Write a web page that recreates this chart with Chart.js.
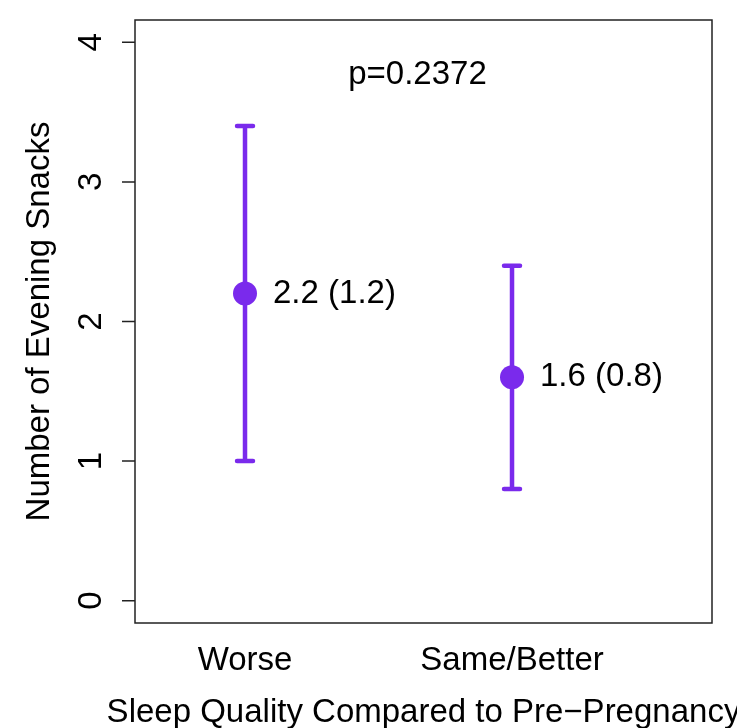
<!DOCTYPE html>
<html>
<head>
<meta charset="utf-8">
<script src="https://cdn.jsdelivr.net/npm/chart.js@4"></script>
<style>
  body { margin: 0; background: #fff; }
  canvas { display: block; }
</style>
</head>
<body>
<canvas id="myChart" width="737" height="728"></canvas>
<script>
const categories = ['Worse', 'Same/Better'];
const means = [2.2, 1.6];
const sds = [1.2, 0.8];
const yTicks = [0, 1, 2, 3, 4];
const pLabel = 'p=0.2372';
const xTitle = 'Sleep Quality Compared to Pre\u2212Pregnancy';
const yTitle = 'Number of Evening Snacks';

const purple = '#7a2aec';
const font = '"Liberation Sans", Arial, Helvetica, sans-serif';
const fs = 33;

// R-style box, axis, error bars and text
const rPlot = {
  id: 'rPlot',
  beforeDatasetsDraw(chart) {
    const ctx = chart.ctx;
    const xs = chart.scales.x, ys = chart.scales.y;
    ctx.save();
    ctx.strokeStyle = purple;
    ctx.lineWidth = 4.5;
    ctx.lineCap = 'round';
    means.forEach((m, i) => {
      const px = xs.getPixelForValue(i + 1);
      const lo = ys.getPixelForValue(m - sds[i]);
      const hi = ys.getPixelForValue(m + sds[i]);
      ctx.beginPath();
      ctx.moveTo(px, lo); ctx.lineTo(px, hi);
      ctx.moveTo(px - 8, lo); ctx.lineTo(px + 8, lo);
      ctx.moveTo(px - 8, hi); ctx.lineTo(px + 8, hi);
      ctx.stroke();
    });
    ctx.restore();
  },
  afterDatasetsDraw(chart) {
    const ctx = chart.ctx;
    const a = chart.chartArea;
    const xs = chart.scales.x, ys = chart.scales.y;
    ctx.save();
    ctx.strokeStyle = '#222';
    ctx.lineWidth = 1.5;
    ctx.strokeRect(a.left, a.top, a.right - a.left, a.bottom - a.top);

    // y axis ticks
    ctx.beginPath();
    yTicks.forEach(t => {
      const py = ys.getPixelForValue(t);
      ctx.moveTo(a.left, py); ctx.lineTo(a.left - 13, py);
    });
    ctx.stroke();

    ctx.fillStyle = '#000';
    ctx.font = fs + 'px ' + font;
    ctx.textAlign = 'center';
    ctx.textBaseline = 'middle';
    yTicks.forEach(t => {
      const py = ys.getPixelForValue(t);
      ctx.save();
      ctx.translate(92, py);
      ctx.rotate(-Math.PI / 2);
      ctx.fillText(String(t), 0, 0);
      ctx.restore();
    });

    // category labels
    categories.forEach((c, i) => {
      ctx.fillText(c, xs.getPixelForValue(i + 1), 661);
    });

    // axis titles
    ctx.fillText(xTitle, (a.left + a.right) / 2, 713);
    ctx.save();
    ctx.translate(40, (a.top + a.bottom) / 2);
    ctx.rotate(-Math.PI / 2);
    ctx.fillText(yTitle, 0, 0);
    ctx.restore();

    // value labels
    ctx.textAlign = 'left';
    means.forEach((m, i) => {
      const px = xs.getPixelForValue(i + 1);
      const py = ys.getPixelForValue(m);
      ctx.fillText(m.toFixed(1) + ' (' + sds[i].toFixed(1) + ')', px + 28, py);
    });

    // p value
    ctx.textAlign = 'center';
    ctx.fillText(pLabel, xs.getPixelForValue(1.646), ys.getPixelForValue(3.77));
    ctx.restore();
  }
};

new Chart(document.getElementById('myChart'), {
  type: 'scatter',
  data: {
    datasets: [{
      data: means.map((m, i) => ({ x: i + 1, y: m })),
      backgroundColor: purple,
      borderColor: purple,
      pointRadius: 12,
      pointHoverRadius: 12,
      borderWidth: 0
    }]
  },
  options: {
    responsive: false,
    animation: false,
    devicePixelRatio: 1,
    layout: { padding: { left: 135, top: 20, right: 25, bottom: 105 } },
    plugins: { legend: { display: false }, tooltip: { enabled: false } },
    scales: {
      x: { type: 'linear', min: 0.588, max: 2.749, display: false },
      y: { type: 'linear', min: -0.16, max: 4.16, display: false }
    }
  },
  plugins: [rPlot]
});
</script>
</body>
</html>
